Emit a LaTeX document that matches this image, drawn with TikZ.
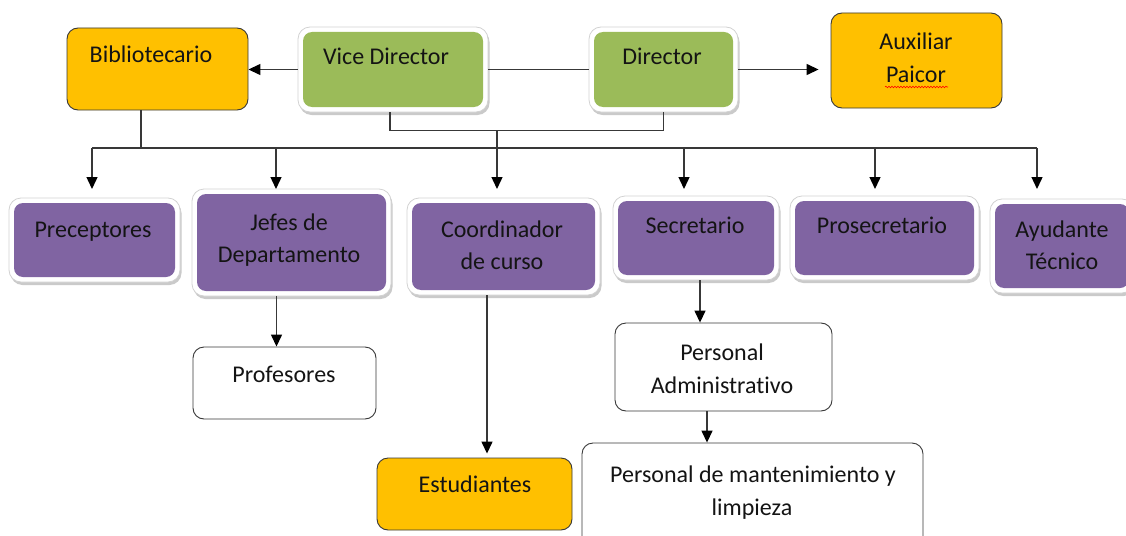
\documentclass[tikz,border=0pt]{standalone}
\usepackage{fontspec}
\setmainfont{Carlito}[Ligatures={NoCommon}]
\usetikzlibrary{shadows,arrows.meta,decorations.pathmorphing}
\definecolor{orangeA}{HTML}{FFC000}
\definecolor{greenA}{HTML}{9BBB59}
\definecolor{purpleA}{HTML}{8064A2}
\definecolor{lineA}{HTML}{383838}
\tikzset{
  orangebox/.style={draw=lineA, line width=0.9pt, fill=orangeA, rounded corners=11pt, inner sep=0pt},
  whitebox/.style={draw=lineA, line width=0.9pt, fill=white, rounded corners=11pt, inner sep=0pt},
  frame/.style={draw=gray!35, line width=0.8pt, fill=white, rounded corners=12pt, inner sep=0pt,
     drop shadow={shadow xshift=1.5pt, shadow yshift=-3pt, fill=gray!70, opacity=0.6}},
  innerbox/.style={rounded corners=9pt, inner sep=0pt, fill=#1},
  lbl/.style={font=\fontsize{24}{33}\selectfont, text=black!92, anchor=base, inner sep=0pt},
  conn/.style={draw=lineA, line width=1.4pt},
  arr/.style={conn, -{Triangle[length=12pt, width=11pt, fill=black, color=black]}}
}
\begin{document}
\begin{tikzpicture}[x=1pt,y=-1pt]
\useasboundingbox (0,0) rectangle (1126,535);
\clip (0,0) rectangle (1126,535);

% top row
\node[orangebox, minimum width=181pt, minimum height=82pt] (bib) at (157.5,69) {};
\node[frame, minimum width=190pt, minimum height=85pt] (vdF) at (393,69.5) {};
\node[innerbox=greenA, minimum width=180pt, minimum height=75pt] (vd) at (393,69.5) {};
\node[frame, minimum width=149pt, minimum height=85pt] (dirF) at (663.5,69.5) {};
\node[innerbox=greenA, minimum width=139pt, minimum height=75pt] (dir) at (663.5,69.5) {};
\node[orangebox, minimum width=171pt, minimum height=95pt] (aux) at (916.5,60.5) {};

% middle row
\node[frame, minimum width=171pt, minimum height=84pt] (precF) at (94.5,240) {};
\node[innerbox=purpleA, minimum width=161pt, minimum height=74pt] (prec) at (94.5,240) {};
\node[frame, minimum width=199pt, minimum height=107pt] (jefesF) at (291.5,242.5) {};
\node[innerbox=purpleA, minimum width=189pt, minimum height=97pt] (jefes) at (291.5,242.5) {};
\node[frame, minimum width=193pt, minimum height=97pt] (coordF) at (503.5,246.5) {};
\node[innerbox=purpleA, minimum width=183pt, minimum height=87pt] (coord) at (503.5,246.5) {};
\node[frame, minimum width=166pt, minimum height=84pt] (secF) at (696,238) {};
\node[innerbox=purpleA, minimum width=156pt, minimum height=74pt] (sec) at (696,238) {};
\node[frame, minimum width=189pt, minimum height=84pt] (prosF) at (884.5,238) {};
\node[innerbox=purpleA, minimum width=179pt, minimum height=74pt] (pros) at (884.5,238) {};
\node[frame, minimum width=144pt, minimum height=94pt] (ayudF) at (1062,246) {};
\node[innerbox=purpleA, minimum width=134pt, minimum height=84pt] (ayud) at (1062,246) {};

% bottom
\node[whitebox, minimum width=183pt, minimum height=72pt] (prof) at (284.5,383) {};
\node[whitebox, minimum width=217pt, minimum height=88pt] (pa) at (723.5,367) {};
\node[orangebox, minimum width=195pt, minimum height=72pt] (est) at (474.5,494) {};
\node[whitebox, minimum width=341pt, minimum height=105pt] (pml) at (752.5,495.5) {};

% connectors
\coordinate (tipY) at (0,189);
\coordinate (bl) at (92,148);
\coordinate (br) at (1037,148);
\coordinate (b2) at (276,148);
\coordinate (b4) at (684,148);
\coordinate (b5) at (875,148);
\coordinate (j1) at (497,130);

\draw[arr] (vdF.west) -- (vdF.west -| bib.east);
\draw[conn] (vdF.east) -- (dirF.west);
\draw[arr, shorten >=12pt] (dirF.east) -- (dirF.east -| aux.west);
\draw[conn] ([xshift=-3pt]vdF.south) -- ++(0,18) -| (dirF.south);
\draw[arr] (j1) -- (j1 |- tipY);

\draw[conn] (bl) -- (br);
\draw[conn] ([xshift=-16.5pt]bib.south) -- ([xshift=-16.5pt]bib.south |- bl);
\draw[arr] (bl) -- (bl |- tipY);
\draw[arr] (b2) -- (b2 |- tipY);
\draw[arr] (b4) -- (b4 |- tipY);
\draw[arr] (b5) -- (b5 |- tipY);
\draw[arr] (br) -- (br |- tipY);

\draw[arr] ([xshift=-15pt]jefesF.south) -- ([xshift=-15pt]jefesF.south |- prof.north);
\draw[arr, shorten >=4pt] ([xshift=-16.5pt]coordF.south) -- ([xshift=-16.5pt]coordF.south |- est.north);
\draw[arr] ([xshift=4pt]secF.south) -- ([xshift=4pt]secF.south |- pa.north);
\draw[arr] ([xshift=-16.5pt]pa.south) -- ([xshift=-16.5pt]pa.south |- pml.north);

% labels
\node[lbl] (tBib) at (151,63) {Bibliotecario};
\node[lbl] (tVd) at (386,64) {Vice Director};
\node[lbl] (tDir) at (662,64) {Director};
\node[lbl] (tAux) at (916,50) {Auxiliar};
\node[lbl] (tPai) at (916,82) {Paicor};
\draw[red, line width=0.6pt, decorate, decoration={snake, amplitude=0.8pt, segment length=3pt}]
  ([xshift=-31pt,yshift=-5pt]tPai.base) -- ([xshift=32pt,yshift=-5pt]tPai.base);
\node[lbl] (tPrec) at (93,237) {Preceptores};
\node[lbl] (tJef1) at (289,230) {Jefes de};
\node[lbl] (tJef2) at (289,262) {Departamento};
\node[lbl] (tCo1) at (502,237) {Coordinador};
\node[lbl] (tCo2) at (502,269) {de curso};
\node[lbl] (tSec) at (695,233) {Secretario};
\node[lbl] (tPros) at (882,233) {Prosecretario};
\node[lbl] (tAy1) at (1062,237) {Ayudante};
\node[lbl] (tAy2) at (1062,269) {Técnico};
\node[lbl] (tProf) at (284,382) {Profesores};
\node[lbl] (tPa1) at (722,360) {Personal};
\node[lbl] (tPa2) at (722,393) {Administrativo};
\node[lbl] (tEst) at (475,492) {Estudiantes};
\node[lbl] (tPm1) at (753,482) {Personal de mantenimiento y};
\node[lbl] (tPm2) at (752,515) {limpieza};
\end{tikzpicture}
\end{document}
